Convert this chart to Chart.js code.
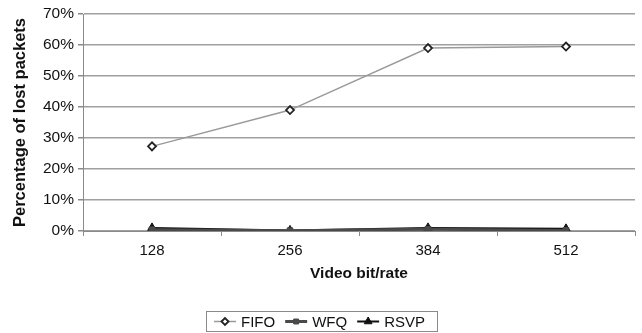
<!DOCTYPE html>
<html>
<head>
<meta charset="utf-8">
<script src="https://cdn.jsdelivr.net/npm/chart.js@4.4.1/dist/chart.umd.min.js"></script>
<style>
  html, body { margin: 0; padding: 0; background: #fff; }
  #wrap { width: 642px; height: 333px; }
</style>
</head>
<body>
<div id="wrap"><canvas id="c" width="642" height="333"></canvas></div>
<script>
// Packet loss by video bit rate for three queueing schemes
const bitRates = ['128', '256', '384', '512'];
const fifoLoss = [27.3, 39.0, 59.0, 59.5];
const wfqLoss  = [0.4, 0.1, 0.6, 0.2];
const rsvpLoss = [1.0, 0.2, 1.0, 0.7];
const yTicks = [0, 10, 20, 30, 40, 50, 60, 70];

const FONT = 'Liberation Sans, Arial, sans-serif';

// Legend drawn as line-with-marker samples inside a bordered box
const boxLegend = {
  id: 'boxLegend',
  afterDraw(chart) {
    const ctx = chart.ctx;
    const x0 = 206, y0 = 311, w = 231, h = 20;
    ctx.save();
    ctx.strokeStyle = '#8a8a8a';
    ctx.lineWidth = 1;
    ctx.strokeRect(x0 + 0.5, y0 + 0.5, w, h);
    ctx.font = '15px ' + FONT;
    ctx.textBaseline = 'middle';
    let x = x0 + 8;
    const cy = y0 + h / 2 + 0.5;
    chart.data.datasets.forEach(ds => {
      ctx.strokeStyle = ds.borderColor;
      ctx.lineWidth = ds.borderWidth;
      ctx.beginPath();
      ctx.moveTo(x, cy);
      ctx.lineTo(x + 22, cy);
      ctx.stroke();
      ctx.fillStyle = ds.pointBackgroundColor;
      ctx.strokeStyle = ds.pointBorderColor;
      ctx.lineWidth = ds.pointBorderWidth;
      Chart.helpers.drawPoint(ctx, {
        pointStyle: ds.pointStyle,
        radius: ds.pointRadius - 0.5,
        borderWidth: ds.pointBorderWidth
      }, x + 11, cy);
      ctx.fillStyle = '#111';
      ctx.fillText(ds.label, x + 27, cy + 1);
      x += 27 + ctx.measureText(ds.label).width + 10;
    });
    ctx.restore();
  }
};

new Chart(document.getElementById('c'), {
  type: 'line',
  data: {
    labels: bitRates,
    datasets: [
      {
        label: 'FIFO',
        data: fifoLoss,
        borderColor: '#9a9a9a',
        borderWidth: 1.5,
        pointStyle: 'rectRot',
        pointRadius: 4,
        pointBackgroundColor: '#ffffff',
        pointBorderColor: '#222222',
        pointBorderWidth: 1.8,
        tension: 0
      },
      {
        label: 'WFQ',
        data: wfqLoss,
        borderColor: '#4a4a4a',
        borderWidth: 3,
        pointStyle: 'rect',
        pointRadius: 4,
        pointBackgroundColor: '#4a4a4a',
        pointBorderColor: '#4a4a4a',
        pointBorderWidth: 1,
        tension: 0
      },
      {
        label: 'RSVP',
        data: rsvpLoss,
        borderColor: '#111111',
        borderWidth: 2,
        pointStyle: 'triangle',
        pointRadius: 5,
        pointBackgroundColor: '#111111',
        pointBorderColor: '#111111',
        pointBorderWidth: 1,
        tension: 0
      }
    ]
  },
  options: {
    responsive: false,
    animation: false,
    devicePixelRatio: 1,
    layout: { padding: { left: 11, right: 7, top: 14, bottom: 50 } },
    plugins: {
      legend: { display: false },
      tooltip: { enabled: false }
    },
    scales: {
      x: {
        offset: true,
        grid: {
          offset: true,
          drawOnChartArea: false,
          drawTicks: true,
          tickLength: 5,
          color: '#8a8a8a',
          lineWidth: 1
        },
        border: { color: '#8a8a8a', width: 1 },
        ticks: {
          color: '#111',
          font: { family: FONT, size: 15 },
          padding: 6,
          maxRotation: 0
        },
        title: {
          display: true,
          text: 'Video bit/rate',
          color: '#111',
          font: { family: FONT, size: 15.5, weight: 'bold' },
          padding: { top: 6, bottom: 0 }
        },
        afterFit(scale) { scale.height = 52; }
      },
      y: {
        min: 0,
        max: 70,
        afterBuildTicks(scale) {
          scale.ticks = yTicks.map(v => ({ value: v }));
        },
        grid: {
          color: '#a0a0a0',
          lineWidth: 1.5,
          drawTicks: true,
          tickLength: 5,
          tickColor: '#8a8a8a'
        },
        border: { color: '#8a8a8a', width: 1 },
        ticks: {
          color: '#111',
          font: { family: FONT, size: 15.5 },
          padding: 4,
          callback: v => v + '%'
        },
        title: {
          display: true,
          text: 'Percentage of lost packets',
          color: '#111',
          font: { family: FONT, size: 16.5, weight: 'bold' },
          padding: { top: 0, bottom: 4 }
        },
        afterFit(scale) { scale.width = 72; }
      }
    }
  },
  plugins: [boxLegend]
});
</script>
</body>
</html>
